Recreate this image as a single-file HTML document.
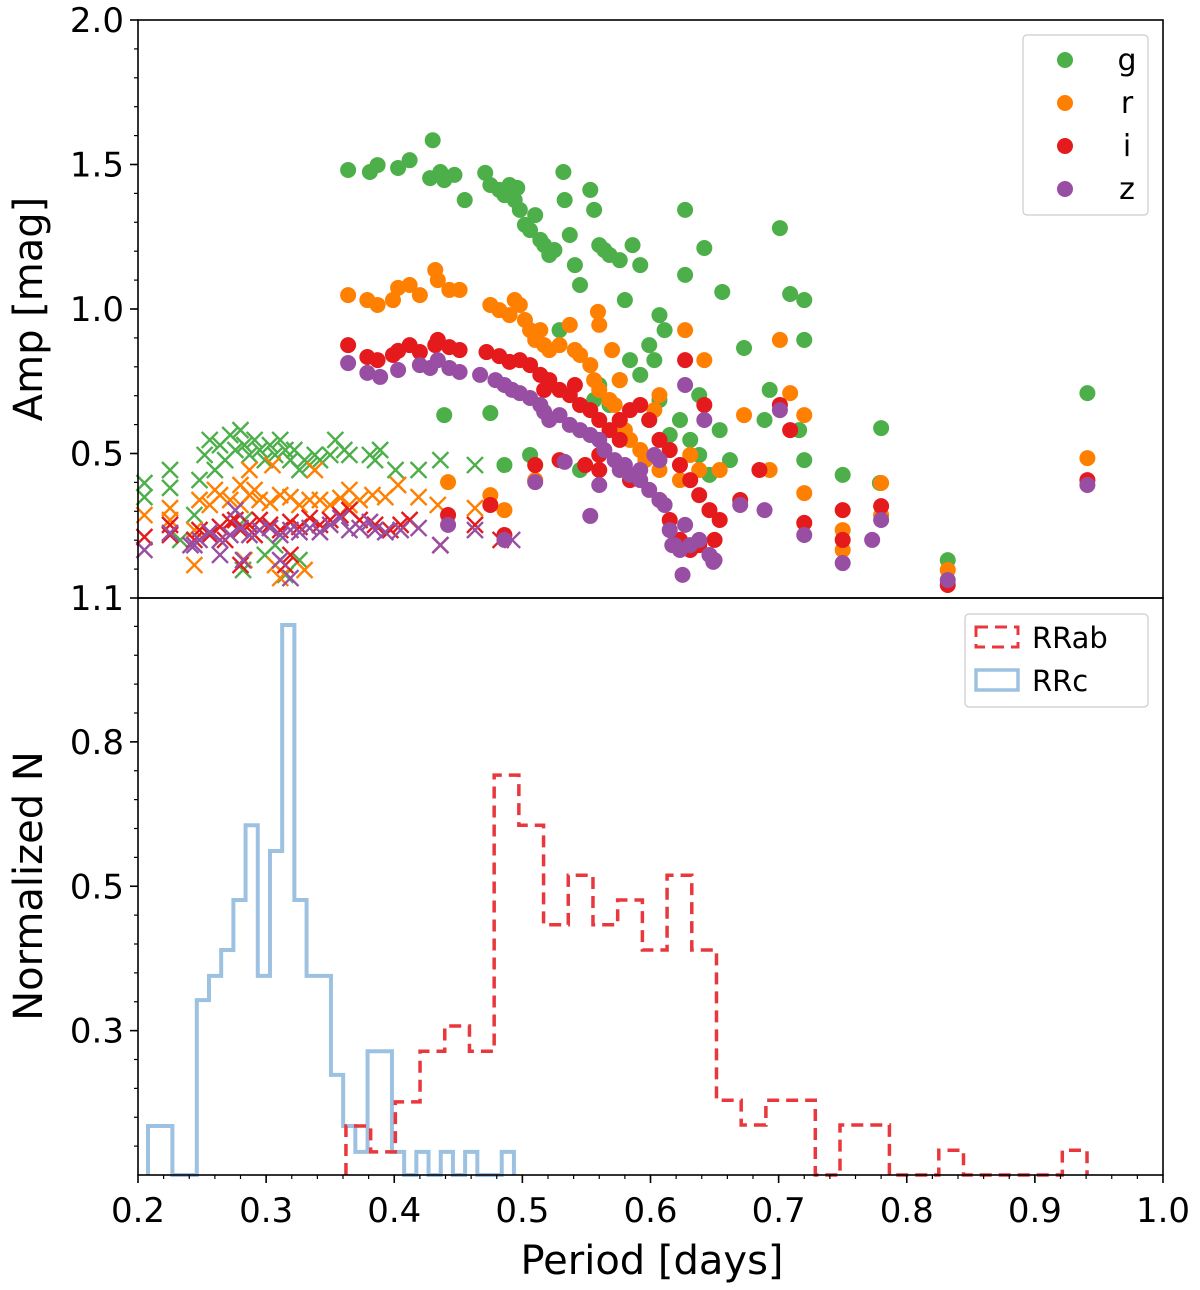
<!DOCTYPE html>
<html><head><meta charset="utf-8"><style>
body{margin:0;background:#fff;}
svg{display:block;font-family:"DejaVu Sans","Liberation Sans",sans-serif;}
</style></head><body>
<svg id="chart" width="1200" height="1290" viewBox="0 0 1200 1290" xmlns="http://www.w3.org/2000/svg"></svg>
<script>
// ---------- data ----------
const gabP=[.364,.381,.387,.403,.412,.430,.428,.436,.439,.447,.455,.471,.475,.482,.486,.490,.494,.496,.498,.502,.506,.510,.514,.517,.521,.525,.532,.533,.537,.541,.545,.553,.556,.560,.564,.568,.576,.580,.586,.592,.599,.603,.611,.607,.627,.627,.642,.656,.673,.693,.701,.709,.720,.720,.576,.584,.592,.599,.607,.623,.638,.654,.689,.716,.439,.475,.486,.506,.615,.631,.638,.646,.662,.720,.750,.780,.779,.832,.941,.545,.568,.560,.556,.529,.541];
const gabA=[1.481,1.474,1.498,1.488,1.515,1.584,1.453,1.474,1.446,1.464,1.377,1.471,1.429,1.412,1.394,1.429,1.377,1.419,1.343,1.291,1.273,1.325,1.239,1.221,1.187,1.204,1.474,1.377,1.256,1.152,1.083,1.412,1.343,1.221,1.204,1.187,1.169,1.031,1.221,1.152,.875,.823,.927,.979,1.343,1.118,1.211,1.059,.865,.720,1.280,1.052,1.031,.893,.754,.823,.772,.616,.685,.616,.702,.581,.616,.581,.633,.640,.460,.495,.564,.547,.495,.426,.477,.477,.426,.588,.398,.131,.709,.443,.668,.737,.685,.927,.858];
const rabP=[.364,.379,.387,.399,.403,.412,.420,.432,.434,.443,.451,.475,.482,.490,.494,.498,.502,.506,.510,.514,.517,.521,.529,.537,.541,.545,.553,.556,.560,.568,.572,.576,.580,.584,.592,.596,.559,.560,.570,.576,.603,.627,.642,.673,.693,.701,.709,.720,.720,.750,.750,.780,.780,.832,.941,.442,.475,.486,.510,.607,.631,.638,.654,.607,.623];
const rabA=[1.048,1.031,1.014,1.031,1.073,1.083,1.048,1.135,1.100,1.066,1.066,1.014,.996,.979,1.031,1.014,.962,.927,.893,.927,.875,.858,.875,.945,.858,.841,.806,.754,.720,.685,.668,.616,.581,.547,.512,.477,.990,.945,.858,.754,.650,.927,.823,.633,.443,.893,.709,.633,.363,.235,.166,.398,.287,.097,.484,.401,.356,.304,.408,.702,.495,.443,.443,.443,.408];
const iabP=[.364,.379,.387,.399,.403,.412,.420,.432,.434,.443,.451,.472,.482,.490,.498,.506,.514,.517,.521,.529,.537,.541,.545,.553,.560,.568,.576,.584,.592,.599,.607,.615,.623,.627,.642,.631,.638,.646,.654,.670,.685,.701,.709,.720,.750,.750,.780,.832,.941,.442,.475,.486,.510,.529,.549,.560,.576,.607,.615,.623,.631,.638,.650,.560,.584];
const iabA=[.875,.834,.823,.841,.855,.875,.851,.875,.893,.868,.858,.851,.837,.817,.823,.806,.772,.720,.754,.720,.702,.737,.668,.650,.616,.581,.616,.650,.668,.616,.547,.512,.460,.823,.668,.408,.356,.304,.270,.339,.443,.668,.581,.260,.304,.201,.318,.045,.408,.287,.322,.218,.460,.477,.460,.495,.547,.339,.270,.201,.166,.183,.201,.443,.408];
const zabP=[.364,.379,.389,.403,.420,.428,.434,.443,.451,.467,.479,.486,.492,.498,.506,.514,.517,.521,.529,.537,.545,.553,.560,.564,.572,.576,.584,.592,.599,.607,.611,.615,.619,.623,.627,.631,.638,.646,.650,.607,.627,.642,.670,.689,.701,.720,.750,.773,.780,.832,.941,.442,.486,.510,.533,.553,.560,.580,.592,.603,.617,.625,.649];
const zabA=[.813,.779,.765,.789,.806,.796,.823,.796,.782,.772,.754,.737,.720,.709,.692,.668,.644,.616,.633,.599,.581,.564,.547,.512,.477,.443,.426,.408,.374,.339,.322,.235,.183,.166,.253,.183,.201,.149,.131,.477,.737,.616,.322,.304,.650,.218,.121,.201,.270,.062,.391,.253,.201,.401,.471,.284,.391,.460,.443,.495,.183,.080,.125];
const gcP=[.205,.205,.225,.225,.248,.252,.256,.260,.264,.268,.272,.276,.280,.283,.287,.291,.295,.299,.303,.307,.311,.315,.319,.322,.326,.330,.334,.338,.342,.350,.354,.361,.365,.381,.385,.389,.401,.419,.436,.463,.283,.282,.299,.307,.315,.326,.244,.248,.233];
const gcA=[.398,.349,.443,.381,.408,.495,.547,.443,.529,.477,.564,.512,.581,.529,.495,.547,.512,.477,.529,.495,.547,.512,.477,.512,.443,.477,.460,.495,.477,.495,.547,.512,.495,.495,.477,.512,.443,.443,.477,.460,.270,.097,.149,.183,.080,.131,.287,.235,.201];
const rcP=[.205,.225,.225,.244,.248,.256,.260,.264,.272,.280,.287,.291,.295,.303,.311,.319,.326,.334,.342,.350,.358,.365,.373,.383,.393,.403,.419,.434,.463,.244,.283,.307,.311,.330,.280,.287,.305,.338,.365];
const rcA=[.287,.311,.270,.235,.339,.322,.374,.356,.339,.322,.356,.374,.339,.329,.356,.349,.322,.339,.339,.322,.346,.322,.339,.356,.349,.391,.349,.322,.311,.114,.131,.114,.069,.097,.391,.443,.460,.443,.374];
const icP=[.205,.225,.225,.244,.248,.256,.264,.272,.280,.287,.295,.303,.311,.319,.326,.334,.342,.350,.358,.365,.373,.385,.397,.405,.412,.436,.463,.483,.280,.315,.319,.291,.276,.268];
const icA=[.211,.218,.253,.201,.235,.218,.246,.263,.235,.253,.270,.253,.235,.263,.246,.277,.253,.270,.287,.304,.270,.253,.235,.253,.270,.183,.253,.201,.114,.114,.149,.218,.270,.201];
const zcP=[.205,.225,.244,.248,.256,.264,.272,.280,.287,.295,.303,.311,.319,.326,.334,.342,.350,.358,.365,.373,.381,.385,.393,.405,.419,.436,.463,.492,.276,.319,.311,.282,.264,.241];
const zcA=[.166,.225,.183,.201,.228,.201,.218,.242,.218,.235,.242,.218,.235,.228,.242,.228,.253,.277,.235,.242,.263,.235,.228,.235,.242,.183,.235,.201,.304,.069,.131,.131,.149,.183];
// histograms
const rrcStart=0.2078, rrcWidth=0.00952;
const rrcValues=[.089,.089,0,0,.318,.362,.409,.5,.636,.362,.589,1.0,.5,.362,.362,.182,.089,.042,.225,.225,.042,0,.042,0,.042,0,.042,0,0,.042];
const rrabStart=0.3623, rrabWidth=0.01928;
const rrabValues=[.089,.042,.133,.225,.271,.225,.727,.636,.455,.545,.455,.5,.409,.545,.409,.136,.091,.136,.136,0,.091,.091,0,0,.045,0,0,0,0,.045];
const xTicks=[0.2,0.3,0.4,0.5,0.6,0.7,0.8,0.9,1.0];
const xTickLabels=["0.2","0.3","0.4","0.5","0.6","0.7","0.8","0.9","1.0"];
const topYTicks=[2.0,1.5,1.0,0.5,0.0];
const topYLabels=["2.0","1.5","1.0","0.5","1.1"];
const botYTicks=[0.2625,0.525,0.7875];
const botYLabels=["0.3","0.5","0.8"];

// ---------- geometry ----------
const L=138,R=1163,T1=20,B1=598,B2=1175;
const xs=p=>L+(p-0.2)/0.8*(R-L);
const yTop=a=>B1-a*289;
const yBot=v=>B2-v*550;
const NS="http://www.w3.org/2000/svg";
const svg=document.getElementById('chart');
function mk(tag,attrs,parent){const e=document.createElementNS(NS,tag);for(const k in attrs)e.setAttribute(k,attrs[k]);(parent||svg).appendChild(e);return e;}
const COL={g:"#4daf4a",r:"#ff7f00",i:"#e41a1c",z:"#984ea3"};

// scatter
const scat=mk('g',{});


function circles(P,A,c,band){for(let k=0;k<P.length;k++){const e=mk('circle',{cx:xs(P[k]),cy:yTop(A[k]),r:8,fill:c},scat);

}}
function crosses(P,A,c,band){for(let k=0;k<P.length;k++){const x=xs(P[k]),y=yTop(A[k]),s=8;
const e=mk('path',{d:`M${x-s} ${y-s}L${x+s} ${y+s}M${x-s} ${y+s}L${x+s} ${y-s}`,stroke:c,'stroke-width':2.4,fill:'none'},scat);

}}
circles(gabP,gabA,COL.g,'g');crosses(gcP,gcA,COL.g,'g');
circles(rabP,rabA,COL.r,'r');crosses(rcP,rcA,COL.r,'r');
circles(iabP,iabA,COL.i,'i');crosses(icP,icA,COL.i,'i');
circles(zabP,zabA,COL.z,'z');crosses(zcP,zcA,COL.z,'z');

// histograms
function stepPath(start,w,vals){let d=`M${xs(start)} ${yBot(0)}`;for(let k=0;k<vals.length;k++){const x0=xs(start+k*w),x1=xs(start+(k+1)*w),y=yBot(vals[k]);d+=`L${x0} ${y}L${x1} ${y}`;}d+=`L${xs(start+vals.length*w)} ${yBot(0)}`;return d;}
const hc=mk('path',{d:stepPath(rrcStart,rrcWidth,rrcValues),fill:'none',stroke:'#9dc1e0','stroke-width':4});


const ha=mk('path',{d:stepPath(rrabStart,rrabWidth,rrabValues),fill:'none',stroke:'#e8383d','stroke-width':3.5,'stroke-dasharray':'12 7'});



// frames
const f1=mk('rect',{x:L,y:T1,width:R-L,height:B1-T1,fill:'none',stroke:'#000','stroke-width':1.6});


const f2=mk('rect',{x:L,y:B1,width:R-L,height:B2-B1,fill:'none',stroke:'#000','stroke-width':1.6});



function txt(x,y,s,size,anchor,name,rot){const e=mk('text',{x:x,y:y,'font-size':size,'text-anchor':anchor||'middle',fill:'#000'});e.textContent=s;if(rot)e.setAttribute('transform',`rotate(-90 ${x} ${y})`);

return e;}

// x ticks
for(let k=0;k<xTicks.length;k++){const x=xs(xTicks[k]);mk('line',{x1:x,x2:x,y1:B2,y2:B2+8,stroke:'#000','stroke-width':1.6});txt(x,B2+47,xTickLabels[k],34,'middle','x-tick-label');}
for(let v=0.22;v<1.0;v+=0.02){const x=xs(v);mk('line',{x1:x,x2:x,y1:B2,y2:B2+4,stroke:'#000','stroke-width':1.2});}
// top y ticks
for(let k=0;k<topYTicks.length;k++){const y=yTop(topYTicks[k]);mk('line',{x1:L-8,x2:L,y1:y,y2:y,stroke:'#000','stroke-width':1.6});txt(L-14,y+12,topYLabels[k],34,'end','top-y-tick-label');}
for(let v=0.1;v<2.0;v+=0.1){const y=yTop(v);mk('line',{x1:L-4,x2:L,y1:y,y2:y,stroke:'#000','stroke-width':1.2});}
// bottom y ticks
for(let k=0;k<botYTicks.length;k++){const y=yBot(botYTicks[k]);mk('line',{x1:L-8,x2:L,y1:y,y2:y,stroke:'#000','stroke-width':1.6});txt(L-14,y+12,botYLabels[k],34,'end','bottom-y-tick-label');}
for(let v=0.0525;v<1.04;v+=0.0525){const y=yBot(v);mk('line',{x1:L-4,x2:L,y1:y,y2:y,stroke:'#000','stroke-width':1.2});}

txt(42,309,'Amp [mag]',40,'middle','top-y-axis-title',true);
txt(42,886,'Normalized N',40,'middle','bottom-y-axis-title',true);
txt(652,1274,'Period [days]',40,'middle','x-axis-title');

// legend top
const lg=mk('rect',{x:1023,y:35,width:125,height:180,rx:4,fill:'#fff',stroke:'#ccc','stroke-width':1.2});


const bands=['g','r','i','z'];
for(let k=0;k<4;k++){const y=60+k*43;const c=mk('circle',{cx:1065,cy:y,r:8,fill:COL[bands[k]]});


txt(1127,y+10,bands[k],30,'middle','legend-label-'+bands[k]);}
// legend bottom
const lb=mk('rect',{x:965,y:614,width:183,height:93,rx:4,fill:'#fff',stroke:'#ccc','stroke-width':1.2});


const p1=mk('rect',{x:976,y:627,width:42,height:20,fill:'none',stroke:'#e8383d','stroke-width':3,'stroke-dasharray':'12 7'});


const p2=mk('rect',{x:976,y:670,width:42,height:20,fill:'none',stroke:'#9dc1e0','stroke-width':3.5});


txt(1032,648,'RRab',29,'start','legend-label-rrab');
txt(1032,691,'RRc',29,'start','legend-label-rrc');
</script>
</body></html>
